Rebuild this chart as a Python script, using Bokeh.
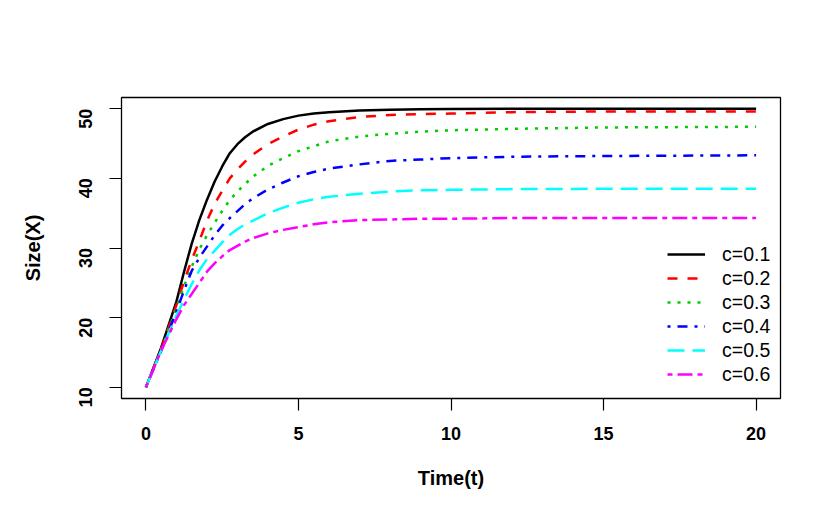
import math
from bokeh.plotting import figure
from bokeh.models import Range1d, FixedTicker, Legend, LegendItem
from bokeh.embed import file_html
from bokeh.resources import INLINE

# Time points (t) and read-off values of Size(X) for each harvesting rate c
time = [0, 0.5, 1, 1.25, 1.5, 1.75, 2, 2.25, 2.5, 2.75, 3, 3.25, 3.5, 4, 4.5, 5, 5.5, 6, 7, 8, 9, 10, 12, 15, 20]
x_c01 = [10, 15.7, 22.3, 26.6, 30.6, 34.0, 36.9, 39.5, 41.7, 43.6, 44.9, 45.9, 46.7, 47.8, 48.5, 49.0, 49.3, 49.5, 49.75, 49.85, 49.9, 49.95, 50.0, 50.0, 50.0]
x_c02 = [10, 15.5, 21.8, 25.2, 28.3, 31.0, 33.9, 36.3, 38.2, 40.0, 41.3, 42.4, 43.4, 44.9, 46.0, 47.0, 47.7, 48.2, 48.8, 49.1, 49.2, 49.3, 49.5, 49.6, 49.6]
x_c03 = [10, 15.4, 21.4, 24.5, 27.3, 29.8, 31.8, 33.6, 35.3, 36.9, 38.1, 39.2, 40.2, 41.8, 42.9, 43.9, 44.6, 45.3, 46.0, 46.4, 46.7, 46.9, 47.1, 47.3, 47.4]
x_c04 = [10, 15.2, 20.9, 23.9, 26.7, 28.6, 30.2, 31.8, 33.2, 34.3, 35.3, 36.3, 37.1, 38.4, 39.4, 40.3, 40.9, 41.4, 42.0, 42.5, 42.7, 42.9, 43.1, 43.2, 43.3]
x_c05 = [10, 15.3, 20.3, 22.6, 24.8, 26.8, 28.4, 29.6, 30.8, 31.9, 32.7, 33.4, 33.9, 35.0, 35.8, 36.5, 37.0, 37.35, 37.8, 38.1, 38.3, 38.35, 38.45, 38.5, 38.5]
x_c06 = [10, 15.3, 19.8, 21.8, 23.4, 25.0, 26.6, 27.8, 28.8, 29.7, 30.3, 30.9, 31.4, 32.1, 32.6, 33.0, 33.4, 33.7, 34.0, 34.1, 34.2, 34.2, 34.3, 34.3, 34.3]

labels = ["c=0.1", "c=0.2", "c=0.3", "c=0.4", "c=0.5", "c=0.6"]
series = [x_c01, x_c02, x_c03, x_c04, x_c05, x_c06]
colors = ["black", "#FF0000", "#00CD00", "#0000FF", "#00FFFF", "#FF00FF"]
dashes = ["solid", "10 10", "3 7", "3 7 10 7", "17 8", "5 5 15 5"]

x_ticks = [0, 5, 10, 15, 20]
y_ticks = [10, 20, 30, 40, 50]

FONT = "Liberation Sans"

p = figure(width=822, height=512, output_backend="svg", toolbar_location=None,
           x_range=Range1d(-0.8, 20.8), y_range=Range1d(8.4, 51.6),
           min_border_left=121, min_border_right=42, min_border_top=97, min_border_bottom=114)
p.background_fill_color = "white"
p.border_fill_color = "white"
p.outline_line_color = "black"
p.outline_line_width = 1.3
p.grid.visible = False

renderers = []
for ys, col, dash in zip(series, colors, dashes):
    r = p.line(time, ys, line_color=col, line_width=2.5, line_dash=dash, line_cap="butt", line_join="round")
    renderers.append(r)

for ax in (p.xaxis[0], p.yaxis[0]):
    ax.axis_line_color = None
    ax.major_tick_out = 12
    ax.major_tick_in = 0
    ax.major_tick_line_color = "black"
    ax.major_tick_line_width = 1.2
    ax.minor_tick_line_color = None
    ax.major_label_text_font = FONT
    ax.major_label_text_font_style = "bold"
    ax.major_label_text_font_size = "18px"
    ax.major_label_text_color = "black"
    ax.axis_label_text_font = FONT
    ax.axis_label_text_font_style = "bold"
    ax.axis_label_text_font_size = "20px"
    ax.axis_label_text_color = "black"

p.xaxis[0].ticker = FixedTicker(ticks=x_ticks)
p.yaxis[0].ticker = FixedTicker(ticks=y_ticks)
p.xaxis[0].axis_label = "Time(t)"
p.yaxis[0].axis_label = "Size(X)"
p.xaxis[0].major_label_standoff = 16
p.yaxis[0].major_label_standoff = 24
p.yaxis[0].major_label_orientation = math.pi / 2
p.xaxis[0].axis_label_standoff = 24
p.yaxis[0].axis_label_standoff = 26

legend = Legend(items=[LegendItem(label=l, renderers=[r]) for l, r in zip(labels, renderers)],
                location=(546, 12), orientation="vertical",
                glyph_width=38, glyph_height=24, label_height=24, spacing=0,
                label_standoff=17, padding=0, margin=0,
                border_line_color=None, background_fill_alpha=0,
                label_text_font=FONT, label_text_font_size="19.5px", label_text_color="black")
p.add_layout(legend, "center")

open("out.html", "w").write(file_html(p, INLINE))
